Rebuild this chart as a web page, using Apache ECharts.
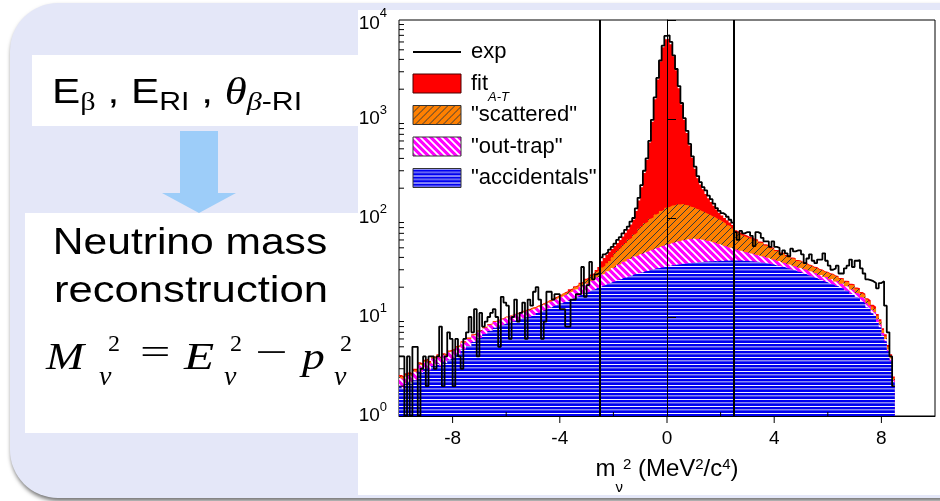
<!DOCTYPE html>
<html><head><meta charset="utf-8">
<script src="https://cdn.jsdelivr.net/npm/echarts@6/dist/echarts.min.js"></script>
<style>html,body{margin:0;padding:0;background:#fff}#c{width:940px;height:501px}</style>
</head><body><div id="c"></div>
<script>
// ---- histogram binning ----
const binStart = -10.0;
const binWidth = 0.1;

// "accidentals" (bottom layer)
const accidentals = [
2.0,1.9,2.1,2.2,2.1,2.3,2.3,2.8,2.7,3.0,
3.1,2.9,3.2,3.2,3.4,3.2,3.5,3.4,3.7,3.8,
3.9,4.2,4.2,4.7,4.7,5.1,5.1,5.6,5.7,6.1,
6.2,6.7,6.8,7.2,7.3,7.8,7.9,8.3,8.3,8.6,
8.6,9.0,9.0,9.4,9.4,9.7,9.7,10.1,10.0,10.4,
10.5,11.0,11.1,11.6,11.8,12.3,12.5,13.0,13.2,13.7,
13.8,14.3,14.5,15.1,15.3,15.9,16.1,16.8,17.0,17.7,
17.9,18.6,18.9,19.6,19.9,20.6,20.9,21.7,22.0,22.7,
23.0,23.8,24.0,24.9,25.1,25.9,26.1,27.0,27.2,28.0,
28.2,29.0,29.2,30.0,30.2,30.9,31.0,31.7,31.8,32.5,
32.6,33.3,33.3,33.9,33.9,34.5,34.5,35.1,35.0,35.5,
35.4,35.9,35.8,36.3,36.2,36.6,36.4,36.8,36.6,37.0,
36.8,37.2,36.9,37.3,37.0,37.3,36.9,37.2,36.8,37.0,
36.5,36.6,36.1,36.1,35.5,35.5,34.9,34.8,34.1,34.0,
33.2,33.0,32.2,32.0,31.1,30.8,29.9,29.6,28.7,28.4,
27.5,27.2,26.3,26.0,25.1,24.8,23.9,23.6,22.7,22.4,
21.6,21.4,20.6,20.4,19.6,19.4,18.5,18.2,17.2,16.8,
15.9,15.5,14.4,13.8,12.5,12.0,10.9,10.4,8.9,7.9,
6.5,5.7,4.5,3.6,2.2];

// accidentals + "out-trap" (top edge of magenta layer)
const outTrapTop = [
2.4,2.3,2.5,2.6,2.5,2.8,2.8,3.3,3.2,3.5,
3.6,3.4,3.8,3.8,4.0,3.8,4.1,4.0,4.4,4.5,
4.6,4.9,5.0,5.5,5.5,6.0,6.0,6.5,6.6,7.1,
7.2,7.7,7.8,8.3,8.4,8.9,9.0,9.4,9.5,9.9,
9.9,10.3,10.4,10.8,10.8,11.2,11.2,11.6,11.6,12.0,
12.1,12.6,12.8,13.3,13.5,14.1,14.3,14.9,15.2,15.8,
16.0,16.7,17.0,17.8,18.1,19.0,19.3,20.3,20.7,21.7,
22.1,23.2,23.7,25.0,25.5,26.9,27.5,29.0,29.6,31.3,
31.9,33.7,34.2,36.1,36.6,38.5,39.0,40.9,41.3,43.2,
43.6,45.4,45.8,47.6,48.0,49.8,50.1,52.0,52.3,54.2,
54.4,56.3,56.4,58.2,58.2,59.9,59.8,61.3,61.0,62.0,
61.2,61.6,60.2,60.3,58.7,58.6,56.8,56.6,54.7,54.4,
52.5,52.2,50.3,50.1,48.3,48.2,46.6,46.6,45.2,45.2,
43.8,43.8,42.4,42.4,41.0,41.0,39.6,39.6,38.2,38.2,
36.8,36.8,35.4,35.4,34.0,34.0,32.6,32.6,31.3,31.4,
30.1,30.2,28.9,29.0,27.7,27.8,26.5,26.6,25.3,25.4,
24.1,24.2,22.9,23.0,21.7,21.8,20.4,20.4,19.0,18.9,
17.5,17.2,15.8,15.2,13.8,13.1,11.8,11.2,9.5,8.4,
6.9,6.0,4.7,3.8,2.3];

// accidentals + out-trap + "scattered" (top edge of orange layer)
const scatteredTop = [
2.5,2.4,2.6,2.7,2.6,2.9,2.9,3.4,3.3,3.6,
3.7,3.5,3.9,3.9,4.1,3.9,4.2,4.1,4.5,4.6,
4.7,5.0,5.1,5.6,5.6,6.1,6.1,6.6,6.7,7.2,
7.3,7.8,7.9,8.4,8.5,9.0,9.1,9.5,9.6,10.0,
10.0,10.4,10.5,10.9,11.0,11.4,11.4,11.8,11.9,12.3,
12.4,12.9,13.1,13.6,13.9,14.5,14.7,15.4,15.7,16.4,
16.6,17.4,17.8,18.6,19.0,20.0,20.5,21.6,22.3,23.6,
24.4,25.9,26.9,28.6,29.8,31.6,33.1,35.0,36.8,40.2,
44.0,46.8,49.5,53.2,56.0,60.5,63.3,68.2,71.4,78.0,
82.5,88.6,91.8,98.2,101.5,108.4,111.5,118.0,121.2,127.0,
129.5,133.8,134.8,137.6,137.2,138.4,135.6,134.2,130.1,128.2,
123.8,121.6,117.4,115.2,110.8,108.5,104.2,101.8,97.6,95.2,
91.0,88.6,84.5,82.2,78.3,72.0,69.0,67.0,65.5,64.0,
62.2,62.3,59.4,59.0,56.1,55.5,52.8,52.0,49.6,48.8,
46.4,46.0,43.8,43.3,41.2,40.8,38.9,38.6,36.8,36.5,
35.0,34.7,33.2,32.9,31.5,31.2,29.9,29.6,28.4,28.1,
27.0,26.8,25.6,25.4,24.2,24.0,22.7,22.5,21.1,20.8,
19.3,18.9,17.3,16.6,15.0,14.3,12.8,12.2,10.3,9.1,
7.4,6.4,5.0,4.0,2.4];

// total fit (fit A-T), top edge of red layer
const fitTotal = [
2.6,2.5,2.7,2.8,2.7,3.0,3.0,3.5,3.4,3.7,
3.8,3.6,4.0,4.0,4.2,4.0,4.3,4.2,4.6,4.7,
4.8,5.1,5.2,5.7,5.7,6.2,6.2,6.7,6.8,7.3,
7.4,7.9,8.0,8.5,8.6,9.1,9.2,9.6,9.7,10.1,
10.1,10.5,10.6,11.0,11.1,11.5,11.6,12.0,12.1,12.5,
12.6,13.1,13.3,13.8,14.1,14.7,15.0,15.7,16.0,16.7,
17.0,17.8,18.2,19.1,19.5,20.5,21.1,22.2,23.0,24.3,
25.2,26.8,28.0,29.8,32.0,36.5,39.5,42.5,45.5,48.5,
52,56,60,65,71,77,86,96,118,150,
205,285,385,580,940,1580,2500,3800,5300,6400,
6500,5700,4300,3100,2050,1400,980,720,540,405,
315,252,218,195,175,158,145,133,122,113,
106,100,95,90,85,75,72,70,68,66.5,
64.4,64.0,61.3,60.7,57.8,57.1,54.3,53.4,51.0,50.1,
47.6,47.2,44.9,44.4,42.2,41.8,39.8,39.5,37.6,37.3,
35.8,35.5,33.9,33.6,32.2,31.9,30.5,30.2,29.0,28.7,
27.6,27.4,26.2,26.0,24.8,24.6,23.3,23.1,21.7,21.4,
19.9,19.5,17.9,17.2,15.5,14.8,13.3,12.7,10.7,9.5,
7.7,6.7,5.2,4.2,2.5];

// measured spectrum "exp"
const expCounts = [
4,4,1,4,1,5,5,1,3,4,
2,4,4,3,4,8,2,4,7,6,
2,6,4,3,6,7,10,7,12,4,
11,8,9,10,11,12,10,5,16,14,
13,6,10,15,9,11,14,6,15,13,
18,20,15,6,9,18,18,15,17,17,
12,12,8,8,15,15,17,17,32,16,
21,36,24,27,28,40,43,45,48,51,
55,60,64,70,76,82,92,100,125,160,
215,300,400,600,980,1650,2600,3900,5500,6900,
7000,6000,4400,3200,2150,1450,1020,760,560,420,
330,265,230,205,190,168,155,140,126,118,
112,108,103,96,90,72,60,74,70,72,
72,66,52,72,70,63,58,58,51,58,
51,50,43,47,44,41,49,46,47,47,
43,35,39,43,37,35,38,38,44,37,
33,30,31,33,27.5,27.5,31,33,38,32,
37,37.5,31,27.5,24,23.6,23,22,19.5,22,
23,13,7,4,2];

const cutValues = [-2.5, 2.5];
const xTickValues = [-8, -6, -4, -2, 0, 2, 4, 6, 8];
const xLabelValues = [-8, -4, 0, 4, 8];

// ---- helpers ----
function steps(vals) {
  const pts = vals.map((v, i) => [Math.round((binStart + i * binWidth) * 100) / 100, v]);
  pts.push([Math.round((binStart + vals.length * binWidth) * 100) / 100, vals[vals.length - 1]]);
  return pts;
}
function tile(w, h, draw) {
  const c = document.createElement('canvas'); c.width = w; c.height = h;
  draw(c.getContext('2d'), w, h); return c;
}
const orangePat = { image: tile(7, 7, (g, w, h) => {
  g.fillStyle = '#ff8000'; g.fillRect(0, 0, w, h);
  g.strokeStyle = '#3a3a3a'; g.lineWidth = 1; g.beginPath();
  g.moveTo(-1, h + 1); g.lineTo(w + 1, -1);
  g.moveTo(-1, 1); g.lineTo(1, -1);
  g.moveTo(w - 1, h + 1); g.lineTo(w + 1, h - 1);
  g.stroke();
}), repeat: 'repeat' };
const magentaPat = { image: tile(7, 7, (g, w, h) => {
  g.fillStyle = '#ff00ff'; g.fillRect(0, 0, w, h);
  g.strokeStyle = '#ffffff'; g.lineWidth = 1.8; g.beginPath();
  g.moveTo(-1, -1); g.lineTo(w + 1, h + 1);
  g.moveTo(w - 1, -1); g.lineTo(w + 1, 1);
  g.moveTo(-1, h - 1); g.lineTo(1, h + 1);
  g.stroke();
}), repeat: 'repeat' };
const bluePat = { image: tile(4, 7, (g, w, h) => {
  g.fillStyle = '#0000f0'; g.fillRect(0, 0, w, h);
  g.fillStyle = '#f2f2ff'; g.fillRect(0, 0, w, 1);
  g.fillStyle = '#8a8af2'; g.fillRect(0, 3, w, 1.5);
}), repeat: 'repeat' };

const yMinorTicks = [];
for (let d = 1; d < 10000; d *= 10) for (let m = 2; m <= 9; m++) yMinorTicks.push(m * d);
const tickData = yMinorTicks.map(v => [-10, v, 0])
  .concat(xTickValues.map(v => [v, 1, xLabelValues.includes(v) ? 1 : 2]));

const FONT = 'Liberation Sans, Arial, sans-serif';
const SERIF = 'Liberation Serif, Times New Roman, serif';

function areaSeries(name, vals, fill) {
  return {
    name, type: 'line', step: 'end', data: steps(vals), symbol: 'none', showSymbol: false,
    color: typeof fill === 'string' ? fill : '#888',
    itemStyle: { color: fill },
    lineStyle: { width: 0, opacity: 0 },
    areaStyle: { color: fill, opacity: 1, origin: 'start' },
    emphasis: { disabled: true }, silent: true, z: 2
  };
}

const chart = echarts.init(document.getElementById('c'), null, { renderer: 'canvas' });
chart.setOption({
  animation: false,
  backgroundColor: '#ffffff',
  textStyle: { fontFamily: FONT },
  graphic: [
    { type: 'rect', z: -30, shape: { x: 10, y: 3, width: 990, height: 495, r: 48 },
      style: { fill: '#e4e7f8', shadowBlur: 4, shadowOffsetX: 1, shadowOffsetY: 3, shadowColor: 'rgba(0,0,0,0.55)' } },
    { type: 'rect', z: -29, shape: { x: 358, y: 10, width: 582, height: 485 }, style: { fill: '#ffffff' } },
    { type: 'rect', z: -29, shape: { x: 32, y: 55, width: 326, height: 71 }, style: { fill: '#ffffff' } },
    { type: 'rect', z: -29, shape: { x: 25, y: 213, width: 333, height: 220 }, style: { fill: '#ffffff' } },
    { type: 'polygon', z: -28, shape: { points: [[180,131],[218,131],[218,193],[236,193],[199,213],[162,193],[180,193]] },
      style: { fill: '#9dcdf9' } },
    { type: 'text', z: -20, x: 52, y: 76, scaleX: 1.21,
      style: { text: '{m|E}{sb|β}{m| , E}{sr|RI}{m| , }{th|θ}{sbi|β}{sr|-RI}', fill: '#000', verticalAlign: 'top', align: 'left',
        rich: {
          m: { fontFamily: FONT, fontSize: 35, lineHeight: 40, padding: [0,0,10,0], verticalAlign: 'top' },
          sb: { fontFamily: SERIF, fontSize: 25, lineHeight: 30, verticalAlign: 'bottom' },
          sr: { fontFamily: FONT, fontSize: 25, lineHeight: 30, verticalAlign: 'bottom' },
          th: { fontFamily: SERIF, fontStyle: 'italic', fontSize: 37, lineHeight: 40, padding: [0,0,10,0], verticalAlign: 'top' },
          sbi: { fontFamily: SERIF, fontStyle: 'italic', fontSize: 25, lineHeight: 30, verticalAlign: 'bottom' }
        } } },
    { type: 'text', z: -20, x: 190, y: 244, scaleX: 1.15,
      style: { text: 'Neutrino mass', font: '37px ' + FONT, fill: '#000', align: 'center', verticalAlign: 'middle' } },
    { type: 'text', z: -20, x: 191, y: 292, scaleX: 1.18,
      style: { text: 'reconstruction', font: '37px ' + FONT, fill: '#000', align: 'center', verticalAlign: 'middle' } },
    { type: 'text', z: -20, x: 46, y: 359, scaleX: 1.2, style: { text: 'M', font: 'italic 38px ' + SERIF, fill: '#000', verticalAlign: 'middle' } },
    { type: 'text', z: -20, x: 108, y: 345, style: { text: '2', font: '24px ' + SERIF, fill: '#000', verticalAlign: 'middle' } },
    { type: 'text', z: -20, x: 99, y: 378, style: { text: 'ν', font: 'italic 28px ' + SERIF, fill: '#000', verticalAlign: 'middle' } },
    { type: 'text', z: -20, x: 140, y: 355, scaleX: 1.5, style: { text: '=', font: '36px ' + SERIF, fill: '#000', verticalAlign: 'middle' } },
    { type: 'text', z: -20, x: 184, y: 359, scaleX: 1.3, style: { text: 'E', font: 'italic 38px ' + SERIF, fill: '#000', verticalAlign: 'middle' } },
    { type: 'text', z: -20, x: 230, y: 345, style: { text: '2', font: '24px ' + SERIF, fill: '#000', verticalAlign: 'middle' } },
    { type: 'text', z: -20, x: 224, y: 378, style: { text: 'ν', font: 'italic 28px ' + SERIF, fill: '#000', verticalAlign: 'middle' } },
    { type: 'text', z: -20, x: 255, y: 355, scaleX: 1.6, style: { text: '−', font: '36px ' + SERIF, fill: '#000', verticalAlign: 'middle' } },
    { type: 'text', z: -20, x: 302, y: 359, scaleX: 1.2, style: { text: 'p', font: 'italic 38px ' + SERIF, fill: '#000', verticalAlign: 'middle' } },
    { type: 'text', z: -20, x: 340, y: 345, style: { text: '2', font: '24px ' + SERIF, fill: '#000', verticalAlign: 'middle' } },
    { type: 'text', z: -20, x: 334, y: 378, style: { text: 'ν', font: 'italic 28px ' + SERIF, fill: '#000', verticalAlign: 'middle' } }
  ],
  grid: { left: 399, right: 5, top: 20, bottom: 85, show: true, borderColor: '#000', borderWidth: 1, backgroundColor: 'transparent' },
  legend: {
    orient: 'vertical', left: 412, top: 32, padding: 0, itemWidth: 48, itemHeight: 19, itemGap: -8.5,
    selectedMode: false, z: 20,
    textStyle: { fontFamily: FONT, fontSize: 22, color: '#000', lineHeight: 40, padding: [0, 0, 0, 5],
      rich: {
        n: { fontFamily: FONT, fontSize: 22, lineHeight: 40, verticalAlign: 'middle' },
        s: { fontFamily: FONT, fontSize: 13, fontStyle: 'italic', lineHeight: 13, verticalAlign: 'bottom' }
      } },
    formatter: name => name === 'fitA-T' ? '{n|fit}{s|A-T}' : name,
    data: [
      { name: 'exp', itemStyle: { color: 'rgba(0,0,0,0)', borderWidth: 0, opacity: 0 } },
      { name: 'fitA-T', icon: 'rect', itemStyle: { color: '#ff0000', borderColor: '#4a0000', borderWidth: 1 } },
      { name: '"scattered"', icon: 'rect', itemStyle: { color: orangePat, borderColor: '#333', borderWidth: 1 } },
      { name: '"out-trap"', icon: 'rect', itemStyle: { color: magentaPat, borderColor: '#333', borderWidth: 1 } },
      { name: '"accidentals"', icon: 'rect', itemStyle: { color: bluePat, borderColor: '#333', borderWidth: 1 } }
    ]
  },
  xAxis: {
    type: 'value', min: -10, max: 10, interval: 2, z: 10,
    axisLine: { show: true, onZero: false, lineStyle: { color: '#000', width: 1 } },
    axisTick: { show: false }, splitLine: { show: false },
    axisLabel: { margin: 13, fontSize: 19, color: '#000', fontFamily: FONT,
      formatter: v => xLabelValues.includes(v) ? String(v) : '' },
    name: '{t|m}{sb|ν}{sp|2}{t| (MeV}{sp|2}{t|/c}{sp|4}{t|)}',
    nameLocation: 'middle', nameGap: 41,
    nameTextStyle: { color: '#000', fontFamily: FONT, fontSize: 24,
      rich: {
        t: { fontFamily: FONT, fontSize: 24, lineHeight: 38, verticalAlign: 'top' },
        sp: { fontFamily: FONT, fontSize: 15, verticalAlign: 'top' },
        sb: { fontFamily: FONT, fontSize: 15, verticalAlign: 'bottom' }
      } }
  },
  yAxis: {
    type: 'log', logBase: 10, min: 1, max: 10000, z: 10,
    axisLine: { show: true, lineStyle: { color: '#000', width: 1 } },
    axisTick: { show: true, inside: true, length: 9, lineStyle: { color: '#000' } },
    splitLine: { show: false },
    axisLabel: { margin: 12, color: '#000', fontFamily: FONT,
      formatter: v => { const e = Math.round(Math.log10(v)); return e === 4 ? '{tb|10}{te|4}' : '{b|10}{e|' + e + '}'; },
      rich: {
        b: { fontFamily: FONT, fontSize: 19, lineHeight: 31, verticalAlign: 'middle' },
        e: { fontFamily: FONT, fontSize: 13, lineHeight: 11, verticalAlign: 'top' },
        tb: { fontFamily: FONT, fontSize: 19, lineHeight: 18, verticalAlign: 'bottom' },
        te: { fontFamily: FONT, fontSize: 13, lineHeight: 26, verticalAlign: 'top' }
      } }
  },
  series: [
    areaSeries('fitA-T', fitTotal, '#ff0000'),
    areaSeries('"scattered"', scatteredTop, orangePat),
    areaSeries('"out-trap"', outTrapTop, magentaPat),
    areaSeries('"accidentals"', accidentals, bluePat),
    {
      name: 'exp', type: 'line', step: 'end', data: steps(expCounts), symbol: 'none', showSymbol: false,
      color: '#000', lineStyle: { color: '#000', width: 1.8 }, emphasis: { disabled: true }, silent: true, z: 4,
      markLine: { silent: true, symbol: ['none', 'none'], label: { show: false },
        lineStyle: { color: '#000', width: 2, type: 'solid' }, emphasis: { disabled: true },
        data: cutValues.map(v => ({ xAxis: v })) }
    },
    {
      name: 'ticks', type: 'custom', silent: true, z: 11, clip: false, data: tickData,
      renderItem: (params, api) => {
        const p = api.coord([api.value(0), api.value(1)]);
        const k = api.value(2);
        let shape;
        if (k === 0) shape = { x1: p[0], y1: p[1], x2: p[0] + 5, y2: p[1] };
        else if (k === 1) shape = { x1: p[0], y1: p[1], x2: p[0], y2: p[1] + 7 };
        else shape = { x1: p[0], y1: p[1], x2: p[0], y2: p[1] - 4 };
        return { type: 'line', shape, style: { stroke: '#000', lineWidth: 1 } };
      }
    }
  ]
});
</script>
</body></html>
